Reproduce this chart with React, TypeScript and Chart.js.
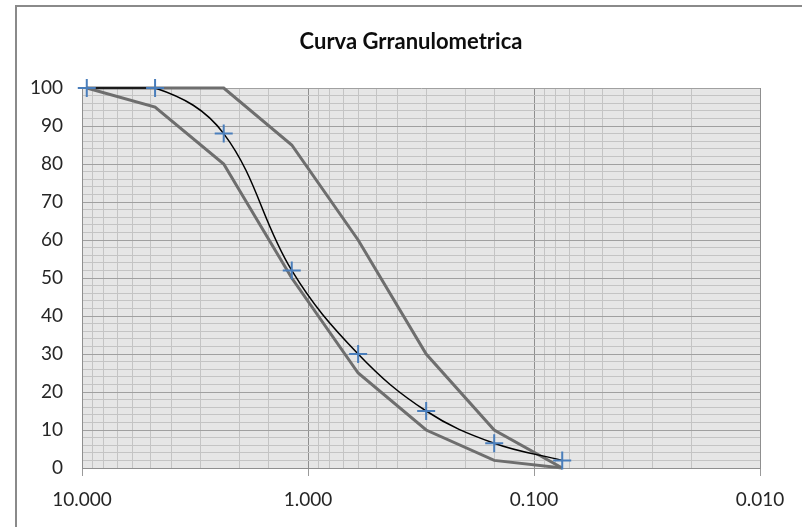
import React, { useEffect, useRef } from 'react';
import { Chart, registerables } from 'chart.js';

Chart.register(...registerables);

// ---- data ----
const chartTitle = 'Curva Grranulometrica';
const sieveSizes = [9.525, 4.75, 2.36, 1.18, 0.6, 0.3, 0.15, 0.075];
const percentPassing = [100, 100, 88, 52, 30, 15, 6.5, 2];
const upperLimit = [100, 100, 100, 85, 60, 30, 10, 0];
const lowerLimit = [100, 95, 80, 50, 25, 10, 2, 0];
const xMin = 0.01;
const xMax = 10;
const yMin = 0;
const yMax = 100;
const yGridStep = 2;
const yLabelStep = 10;

const isDecade = (v: number) =>
  v > 0 && Math.abs(Math.log10(v) - Math.round(Math.log10(v))) < 1e-6;

const FONT = 'Lato, "Open Sans", sans-serif';

const decorPlugin = {
  id: 'decor',
  beforeDraw(chart: any) {
    const { ctx, chartArea } = chart;
    const { left, top, right, bottom } = chartArea;
    ctx.save();
    ctx.fillStyle = '#ffffff';
    ctx.fillRect(0, 0, chart.width, chart.height);
    // outer chart border (extends beyond the visible picture)
    ctx.strokeStyle = '#8a8a8a';
    ctx.lineWidth = 2;
    ctx.strokeRect(16, 6, chart.width + 40, chart.height + 40);
    // plot area background
    ctx.fillStyle = '#e6e6e6';
    ctx.fillRect(left, top, right - left, bottom - top);
    // title
    ctx.fillStyle = '#0d0d0d';
    ctx.font = 'bold 22px ' + FONT;
    ctx.textAlign = 'center';
    ctx.textBaseline = 'alphabetic';
    ctx.fillText(chartTitle, 411, 49);
    ctx.restore();
  },
};

export default function App() {
  const canvasRef = useRef<HTMLCanvasElement | null>(null);

  useEffect(() => {
    if (!canvasRef.current) return;
    const toPoints = (ys: number[]) => sieveSizes.map((x, i) => ({ x, y: ys[i] }));

    const chart = new Chart(canvasRef.current, {
      type: 'line',
      data: {
        datasets: [
          {
            label: 'Muestra',
            data: toPoints(percentPassing),
            borderColor: '#000000',
            borderWidth: 1.5,
            tension: 0.38,
            pointStyle: 'cross',
            pointRadius: 9,
            pointHoverRadius: 9,
            pointBorderColor: '#4a7ebb',
            pointBackgroundColor: '#4a7ebb',
            pointBorderWidth: 2,
            clip: false,
          } as any,
          {
            label: 'Límite superior',
            data: toPoints(upperLimit),
            borderColor: '#6e6e6e',
            borderWidth: 3,
            pointRadius: 0,
            tension: 0,
            clip: false,
          } as any,
          {
            label: 'Límite inferior',
            data: toPoints(lowerLimit),
            borderColor: '#6e6e6e',
            borderWidth: 3,
            pointRadius: 0,
            tension: 0,
            clip: false,
          } as any,
        ],
      },
      options: {
        animation: false,
        responsive: false,
        maintainAspectRatio: false,
        layout: { padding: { left: 0, top: 88, right: 42, bottom: 0 } },
        plugins: {
          legend: { display: false },
          title: { display: false },
          tooltip: { enabled: false },
        },
        scales: {
          x: {
            type: 'logarithmic',
            reverse: true,
            min: xMin,
            max: xMax,
            afterFit: (s: any) => {
              s.height = 59;
            },
            border: { display: true, color: '#8f8f8f', width: 1 },
            grid: {
              color: (c: any) => (c.tick && isDecade(c.tick.value) ? '#8f8f8f' : '#c4c4c4'),
              lineWidth: 1,
              tickLength: 8,
              tickColor: (c: any) => (c.tick && isDecade(c.tick.value) ? '#9a9a9a' : 'rgba(0,0,0,0)'),
            },
            ticks: {
              autoSkip: false,
              maxRotation: 0,
              padding: 12,
              color: '#262626',
              font: { family: FONT, size: 19 },
              callback: (v: any) => (isDecade(Number(v)) ? Number(v).toFixed(3) : ''),
            },
          },
          y: {
            type: 'linear',
            min: yMin,
            max: yMax,
            afterFit: (s: any) => {
              s.width = 82;
            },
            border: { display: true, color: '#8f8f8f', width: 1 },
            grid: {
              color: (c: any) =>
                c.tick && Math.round(c.tick.value) % yLabelStep === 0 ? '#a0a0a0' : '#c4c4c4',
              lineWidth: 1,
              drawTicks: false,
            },
            ticks: {
              stepSize: yGridStep,
              autoSkip: false,
              padding: 19,
              color: '#262626',
              font: { family: FONT, size: 19 },
              callback: (v: any) => (Math.round(Number(v)) % yLabelStep === 0 ? String(v) : ''),
            },
          },
        },
      } as any,
      plugins: [decorPlugin],
    });

    return () => chart.destroy();
  }, []);

  return (
    <div style={{ position: 'absolute', left: 0, top: 0, width: 802, height: 527 }}>
      <canvas ref={canvasRef} width={802} height={527} style={{ width: 802, height: 527 }} />
    </div>
  );
}
